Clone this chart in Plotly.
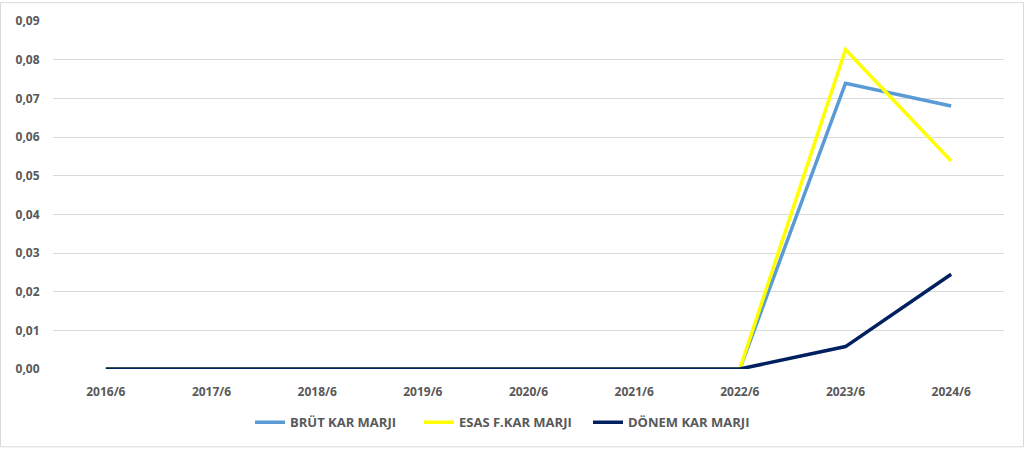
import plotly.graph_objects as go

categories = ["2016/6", "2017/6", "2018/6", "2019/6", "2020/6", "2021/6", "2022/6", "2023/6", "2024/6"]
brut_kar = [0, 0, 0, 0, 0, 0, 0, 0.0739, 0.0680]
esas_kar = [0, 0, 0, 0, 0, 0, 0, 0.0826, 0.0538]
donem_kar = [0, 0, 0, 0, 0, 0, 0, 0.0058, 0.0245]
series_names = ["BRÜT KAR MARJI", "ESAS F.KAR MARJI", "DÖNEM KAR MARJI"]
colors = ["#5b9bd5", "#ffff00", "#002060"]

fig = go.Figure()
for name, vals, col in zip(series_names, [brut_kar, esas_kar, donem_kar], colors):
    fig.add_trace(go.Scatter(x=categories, y=vals, name=name, mode="lines",
                             line=dict(color=col, width=3.5)))

W, H = 1024, 449
ml, mr, mt, mb = 53, 20, 19, 79
pw, ph = W - ml - mr, H - mt - mb
fig.add_shape(type="rect", xref="paper", yref="paper",
              x0=(0.5 - ml) / pw, x1=(W - 0.5 - ml) / pw,
              y0=-(mb - 0.5) / ph, y1=(H - mb - 0.5) / ph,
              line=dict(color="#d9d9d9", width=1), layer="below")

tf = dict(family="Open Sans", size=12, color="#595959", weight="bold")
lf = dict(family="Open Sans", size=13, color="#595959", weight="bold")
fig.update_layout(
    width=W, height=H,
    margin=dict(l=ml, r=mr, t=mt, b=mb),
    paper_bgcolor="white", plot_bgcolor="white",
    separators=",.",
    font=dict(family="Open Sans", size=12, color="#595959"),
    showlegend=True,
    legend=dict(orientation="h", x=(250 - ml) / pw, xanchor="left", y=-0.11, yanchor="top",
                font=lf, itemwidth=30, tracegroupgap=0,
                entrywidth=124, entrywidthmode="pixels"),
    xaxis=dict(type="category", range=[-0.5, 8.5], showgrid=False, zeroline=False,
               showline=False, ticks="outside", ticklen=12, tickcolor="rgba(0,0,0,0)",
               tickfont=tf),
    yaxis=dict(range=[0, 0.09], dtick=0.01, tickformat=".2f", showgrid=True,
               gridcolor="#d9d9d9", gridwidth=1, zeroline=False, showline=False,
               ticks="outside", ticklen=10, tickcolor="rgba(0,0,0,0)",
               tickfont=tf),
)
fig.write_html("out.html", config={"displayModeBar": False},
               post_script="document.body.style.margin='0';")
